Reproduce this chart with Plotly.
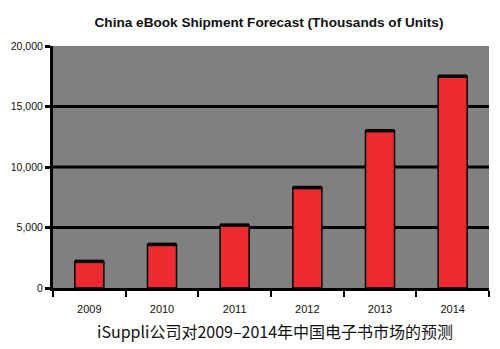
import plotly.graph_objects as go

# Forecast data (thousands of units)
years = ["2009", "2010", "2011", "2012", "2013", "2014"]
shipments = [2200, 3600, 5200, 8300, 13000, 17500]
y_ticks = [0, 5000, 10000, 15000, 20000]
y_tick_text = ["0", "5,000", "10,000", "15,000", "20,000"]
grid_values = [5000, 10000, 15000]

title_text = "China eBook Shipment Forecast (Thousands of Units)"
caption_text = "iSuppli公司对2009–2014年中国电子书市场的预测"

fig = go.Figure()
fig.add_trace(go.Bar(
    x=years,
    y=shipments,
    marker=dict(color="#EC2A30", line=dict(color="black", width=1.5)),
    width=0.4,
))
# Thicker cap along the top of each bar
fig.add_trace(go.Scatter(
    x=years,
    y=shipments,
    mode="markers",
    marker=dict(symbol="line-ew", size=20.5, line=dict(color="black", width=3.5)),
    hoverinfo="skip",
))

# Heavy black reference lines, drawn beneath the bars
for v in grid_values:
    fig.add_shape(type="line", xref="paper", yref="y", x0=0, x1=1, y0=v, y1=v,
                  line=dict(color="black", width=3), layer="below")

fig.update_layout(
    width=500, height=349,
    margin=dict(l=49, r=11, t=46, b=61),
    paper_bgcolor="white",
    plot_bgcolor="#808080",
    showlegend=False,
    title=dict(text="<b>" + title_text + "</b>", x=0.538, xanchor="center",
               y=0.935, yanchor="middle",
               font=dict(family="Liberation Sans, Arial", size=13.6, color="#111")),
    font=dict(family="Liberation Sans, Arial", color="#111"),
)

fig.update_xaxes(
    showgrid=False, showline=True, linecolor="black", linewidth=3,
    ticks="outside", tickson="boundaries", ticklen=6, tickwidth=2, tickcolor="black",
    tickfont=dict(size=11), ticklabelstandoff=9,
)
fig.update_yaxes(
    range=[0, 20000], showgrid=False, zeroline=False,
    showline=True, linecolor="black", linewidth=3,
    tickvals=y_ticks, ticktext=y_tick_text,
    ticks="outside", ticklen=5, tickwidth=3, tickcolor="black",
    tickfont=dict(size=10.5),
)

fig.add_annotation(
    text=caption_text, xref="paper", yref="paper", x=0.51, y=-0.178,
    xanchor="center", yanchor="middle", showarrow=False,
    font=dict(family="Noto Sans CJK SC", size=16, color="#111"),
)

fig.write_html("out.html")
